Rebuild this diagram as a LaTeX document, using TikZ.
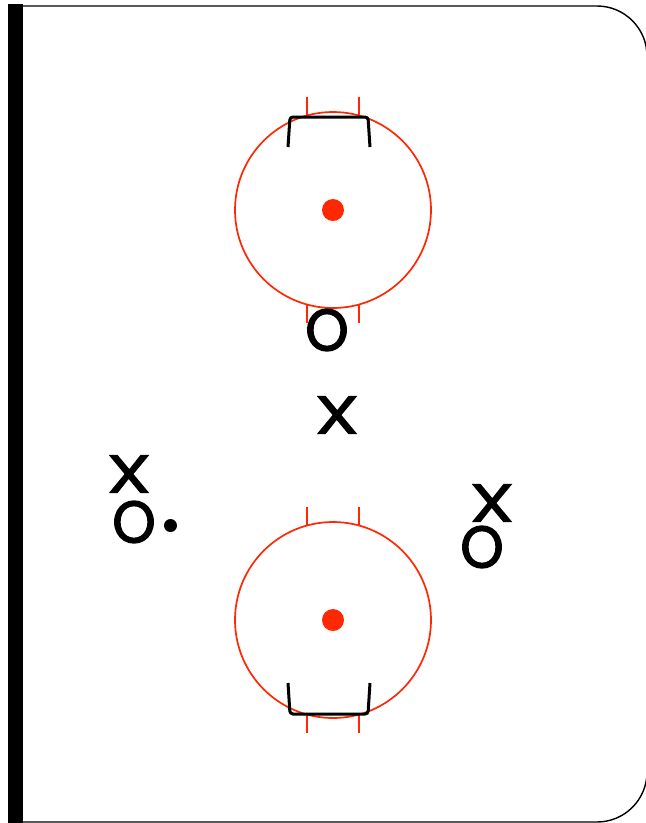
\documentclass[tikz,border=0pt]{standalone}
\usepackage{fontspec}
\newfontfamily\omarkfont[FakeBold=2.4,FakeStretch=0.93]{Poppins}
\newfontfamily\xmarkfont[FakeBold=2.2,FakeStretch=1.35]{Poppins}
\usepackage{tikz}
\usetikzlibrary{positioning,calc}
\definecolor{rinkred}{RGB}{255,40,5}
\tikzset{
  faceoff/.style={circle,draw=rinkred,line width=1.7pt,minimum size=196pt,inner sep=0pt},
  spot/.style={circle,fill=rinkred,minimum size=22pt,inner sep=0pt},
  hash/.style={draw=rinkred,line width=1.7pt},
  crease/.style={draw=black,line width=3pt,rounded corners=3pt},
  omark/.style={font=\omarkfont\fontsize{59}{59}\selectfont,inner sep=0pt},
  xmark/.style={font=\xmarkfont\fontsize{53}{53}\selectfont,inner sep=0pt},
  puck/.style={circle,fill=black,minimum size=13pt,inner sep=0pt},
  boards/.style={draw=black,line width=1.4pt,rounded corners=50pt},
}

\begin{document}
\begin{tikzpicture}[x=1pt,y=-1pt]
    \useasboundingbox (0,0) rectangle (646,823);
    \draw[boards] (15,6) -- (647,6) -- (647,822) -- (15,822);
    \fill[black] (8,4) rectangle (23,823);
    \node[faceoff] (c1) at (333,210) {};
    \node[spot] (s1) at (c1.center) {};
    \node[faceoff] (c2) at (333,620) {};
    \node[spot] (s2) at (c2.center) {};
    \foreach \c in {c1,c2}{
      \foreach \dx in {-26,26}{
        \draw[hash] ($(\c.center)+(\dx,-94.5)$) -- ++(0,-18.5);
        \draw[hash] ($(\c.center)+(\dx,94.5)$) -- ++(0,18.5);
      }
    }
    \draw[crease] (288,147) -- (290,117) -- (368,117) -- (370,147);
    \draw[crease] (288,683) -- (290,714) -- (368,714) -- (370,683);
    \node[omark] (o1) at (327,330) {O};
    \node[xmark] (x1) at (337,415) {X};
    \node[xmark] (x2) at (129,474) {X};
    \node[omark] (o2) at (134,522) {O};
    \node[puck] (p) at (170.5,525.5) {};
    \node[xmark] (x3) at (492,503) {X};
    \node[omark] (o3) at (482,547) {O};
\end{tikzpicture}
\end{document}
